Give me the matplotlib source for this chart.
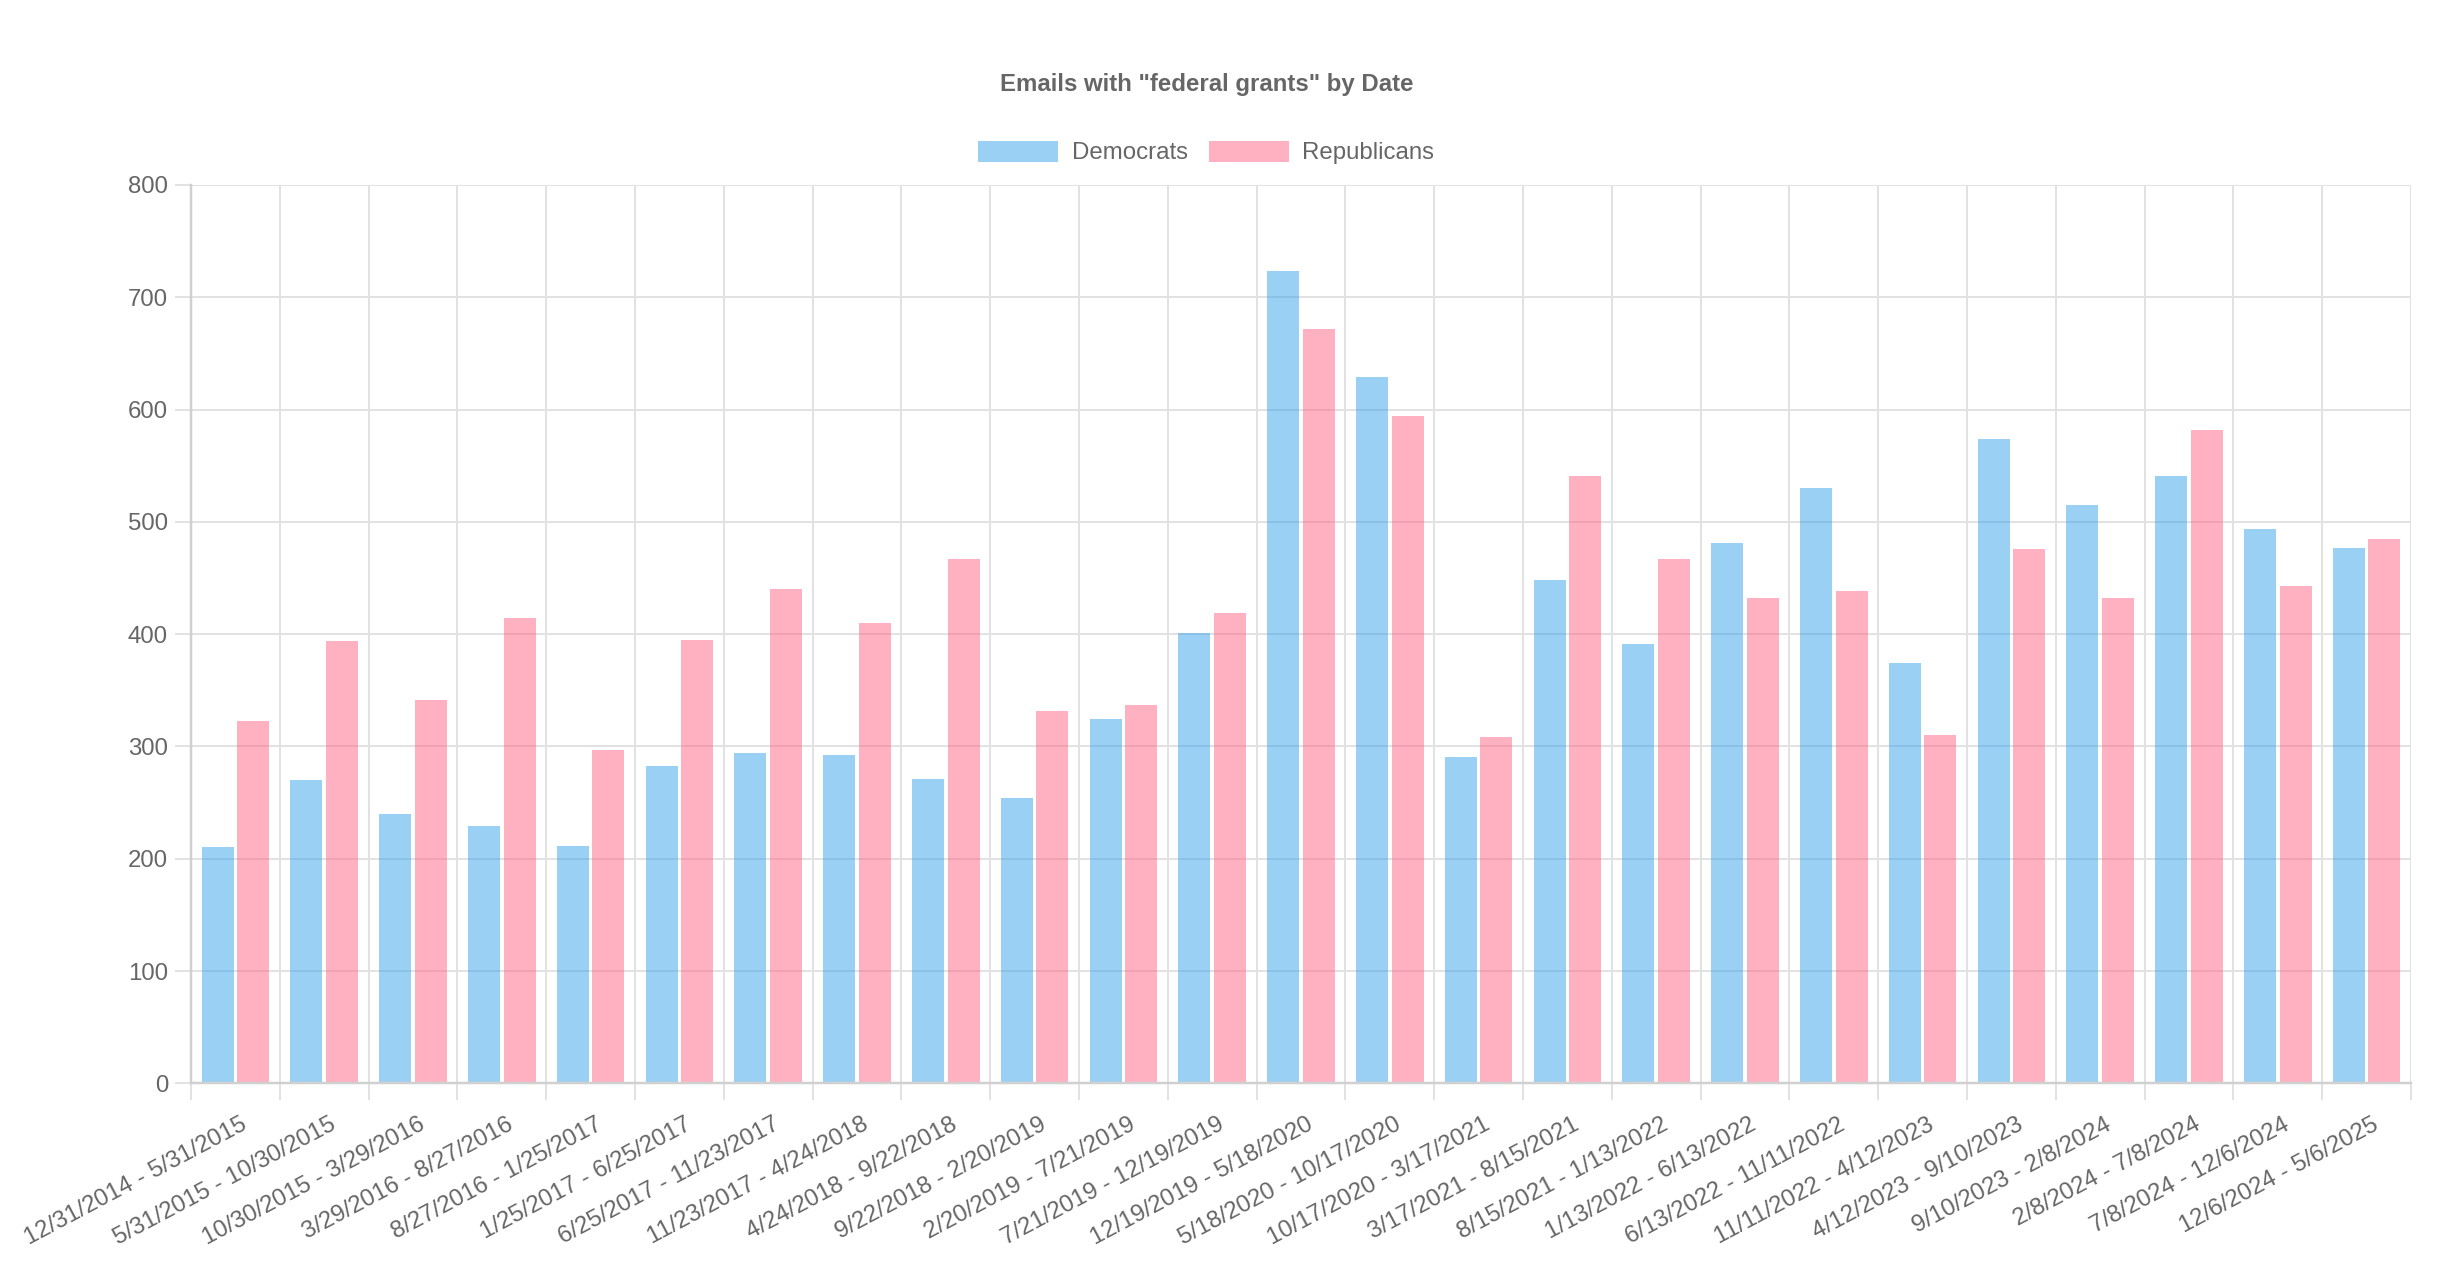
import matplotlib
matplotlib.use("Agg")
import matplotlib.pyplot as plt
import matplotlib.transforms as mtransforms
from matplotlib.patches import Patch
import numpy as np

plt.rcParams['font.family'] = ['Liberation Sans', 'DejaVu Sans']

categories = [
    "12/31/2014 - 5/31/2015", "5/31/2015 - 10/30/2015", "10/30/2015 - 3/29/2016",
    "3/29/2016 - 8/27/2016", "8/27/2016 - 1/25/2017", "1/25/2017 - 6/25/2017",
    "6/25/2017 - 11/23/2017", "11/23/2017 - 4/24/2018", "4/24/2018 - 9/22/2018",
    "9/22/2018 - 2/20/2019", "2/20/2019 - 7/21/2019", "7/21/2019 - 12/19/2019",
    "12/19/2019 - 5/18/2020", "5/18/2020 - 10/17/2020", "10/17/2020 - 3/17/2021",
    "3/17/2021 - 8/15/2021", "8/15/2021 - 1/13/2022", "1/13/2022 - 6/13/2022",
    "6/13/2022 - 11/11/2022", "11/11/2022 - 4/12/2023", "4/12/2023 - 9/10/2023",
    "9/10/2023 - 2/8/2024", "2/8/2024 - 7/8/2024", "7/8/2024 - 12/6/2024",
    "12/6/2024 - 5/6/2025",
]
democrats = [210, 270, 240, 229, 211, 283, 294, 292, 271, 254, 324, 401,
             723, 629, 291, 448, 391, 481, 530, 374, 574, 515, 541, 494, 477]
republicans = [323, 394, 341, 414, 297, 395, 440, 410, 467, 332, 337, 419,
               672, 594, 308, 541, 467, 432, 438, 310, 476, 432, 582, 443, 485]
y_ticks = [0, 100, 200, 300, 400, 500, 600, 700, 800]

W, H = 2458, 1286
DPI = 100
fig = plt.figure(figsize=(W / DPI, H / DPI), dpi=DPI)
px = 72.0 / DPI  # points per pixel

L, R, B, T = 191, 2411, 1083.3, 185
ax = fig.add_axes([L / W, 1 - B / H, (R - L) / W, (B - T) / H])

blue = (54 / 255, 162 / 255, 235 / 255, 0.5)
pink = (255 / 255, 99 / 255, 132 / 255, 0.5)
grid_c = '#e2e2e2'
text_c = '#666666'
fs = 24 * px

x = np.arange(len(categories))
bw = 0.36
ax.bar(x - 0.2, democrats, width=bw, color=blue, label='Democrats', zorder=2)
ax.bar(x + 0.2, republicans, width=bw, color=pink, label='Republicans', zorder=2)

ax.set_xlim(-0.5, len(categories) - 0.5)
ax.set_ylim(0, 800)
ax.set_axisbelow(True)

ax.set_yticks(y_ticks)
ax.set_yticklabels([str(v) for v in y_ticks])
ax.set_xticks(x)
ax.set_xticklabels(categories, rotation=28, ha='right', va='center',
                   rotation_mode='anchor')
ax.set_xticks(np.arange(-0.5, len(categories)), minor=True)

ax.tick_params(axis='x', which='major', length=0, pad=40 * px,
               labelsize=fs, labelcolor=text_c)
ax.tick_params(axis='x', which='minor', length=17 * px, width=2 * px,
               color=grid_c)
ax.tick_params(axis='y', which='major', length=16 * px, width=2 * px,
               color=grid_c, pad=7 * px, labelsize=fs, labelcolor=text_c)

ax.grid(True, axis='y', which='major', color=grid_c, linewidth=2 * px)
ax.grid(True, axis='x', which='minor', color=grid_c, linewidth=2 * px)
ax.grid(False, axis='x', which='major')

for s in ['top', 'right']:
    ax.spines[s].set_visible(False)
for s in ['left', 'bottom']:
    ax.spines[s].set_color('#d0d0d0')
    ax.spines[s].set_linewidth(2.5 * px)

offset = mtransforms.ScaledTranslation(10 / DPI, 0, fig.dpi_scale_trans)
for lab in ax.get_xticklabels():
    lab.set_transform(lab.get_transform() + offset)

fig.text(1207 / W, 1 - 85 / H, 'Emails with "federal grants" by Date',
         ha='center', va='center', fontsize=fs, fontweight='bold', color=text_c)

handles = [Patch(facecolor=blue, edgecolor='none', label='Democrats'),
           Patch(facecolor=pink, edgecolor='none', label='Republicans')]
leg = fig.legend(handles=handles, loc='center', ncol=2, frameon=False,
                 bbox_to_anchor=(1206 / W, 1 - 152.5 / H), fontsize=fs,
                 handlelength=80 / 24, handleheight=1.0, handletextpad=14 / 24,
                 columnspacing=21 / 24, borderpad=0, borderaxespad=0)
for t in leg.get_texts():
    t.set_color(text_c)

fig.savefig('out.png', dpi=DPI, facecolor='white')
